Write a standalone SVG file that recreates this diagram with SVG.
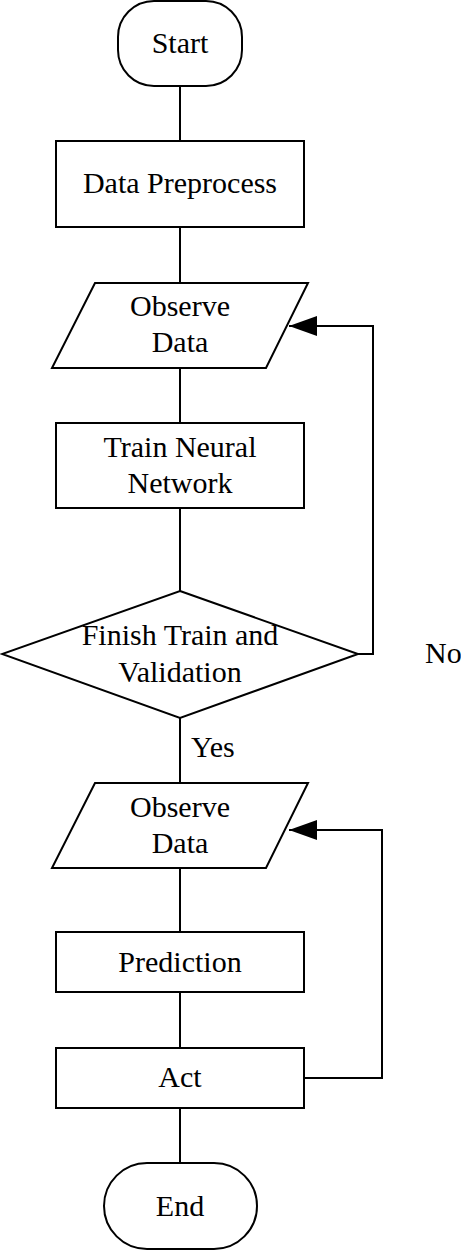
<svg xmlns="http://www.w3.org/2000/svg" width="461" height="1250" viewBox="0 0 461 1250">
<style>
.s{fill:#fff;stroke:#000;stroke-width:2}
.c{fill:none;stroke:#000;stroke-width:2}
text{font-family:"Liberation Serif","Times New Roman",serif;font-size:30px;fill:#000;text-anchor:middle}
</style>
<defs>
<marker id="ah" viewBox="0 0 28 20" refX="28" refY="10" markerWidth="28" markerHeight="20" markerUnits="userSpaceOnUse" orient="auto">
<path d="M0,0 L28,10 L0,20 Z" fill="#000"/>
</marker>
</defs>
<rect width="461" height="1250" fill="#fff"/>
<g id="connectors">
<path class="c" d="M180,86 V141"/>
<path class="c" d="M180,227 V283"/>
<path class="c" d="M180,368 V423"/>
<path class="c" d="M180,508 V591"/>
<path class="c" d="M180,718 V783"/>
<path class="c" d="M180,868 V932"/>
<path class="c" d="M180,992 V1048"/>
<path class="c" d="M180,1108 V1163"/>
<path class="c" d="M358,654 H373 V326 H289" marker-end="url(#ah)"/>
<path class="c" d="M304,1078 H382 V830 H289" marker-end="url(#ah)"/>
<text x="191" y="757" style="text-anchor:start">Yes</text>
<text x="425" y="663" style="text-anchor:start">No</text>
</g>
<g id="start">
<rect class="s" x="118" y="1" width="124" height="85" rx="36"/>
<text x="180" y="53">Start</text>
</g>
<g id="preprocess">
<rect class="s" x="56" y="141" width="248" height="86"/>
<text x="180" y="193">Data Preprocess</text>
</g>
<g id="observe1">
<polygon class="s" points="95,283 308,283 266,368 52,368"/>
<text x="180" y="316">Observe</text>
<text x="180" y="352">Data</text>
</g>
<g id="train">
<rect class="s" x="56" y="423" width="248" height="85"/>
<text x="180" y="457">Train Neural</text>
<text x="180" y="493">Network</text>
</g>
<g id="decision">
<polygon class="s" points="180,591 358,654 180,718 2,654"/>
<text x="180" y="645">Finish Train and</text>
<text x="180" y="682">Validation</text>
</g>
<g id="observe2">
<polygon class="s" points="95,783 308,783 266,868 52,868"/>
<text x="180" y="817">Observe</text>
<text x="180" y="853">Data</text>
</g>
<g id="prediction">
<rect class="s" x="56" y="932" width="248" height="60"/>
<text x="180" y="972">Prediction</text>
</g>
<g id="act">
<rect class="s" x="56" y="1048" width="248" height="60"/>
<text x="180" y="1087">Act</text>
</g>
<g id="end">
<rect class="s" x="104" y="1163" width="153" height="86" rx="43"/>
<text x="180" y="1216">End</text>
</g>
</svg>
